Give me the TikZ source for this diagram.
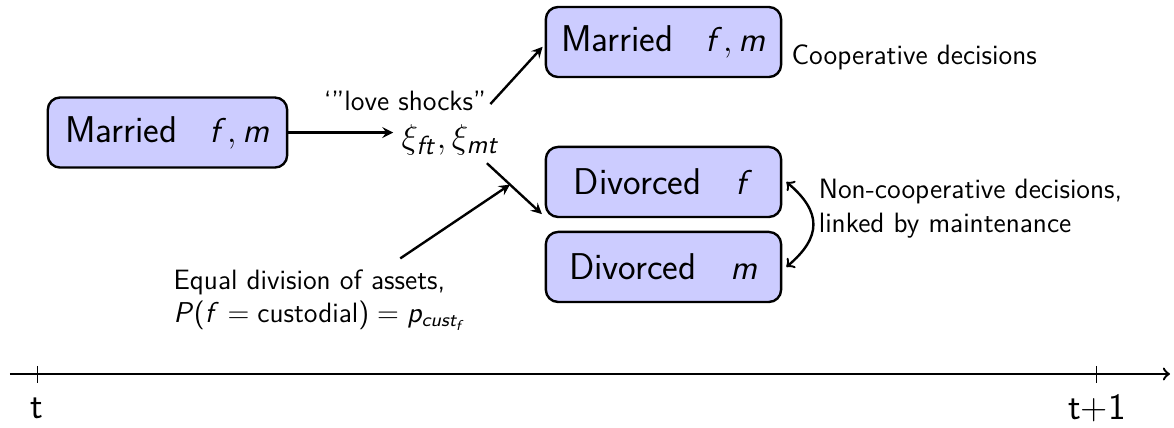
\documentclass[tikz,border=0pt]{standalone}
\renewcommand{\familydefault}{\sfdefault}
% sans slanted letters in math, as in the slides
\DeclareSymbolFont{sfletters}{OT1}{cmss}{m}{sl}
\DeclareSymbolFont{operators}{OT1}{cmss}{m}{n}
\DeclareMathSymbol{f}{\mathalpha}{sfletters}{`f}
\DeclareMathSymbol{m}{\mathalpha}{sfletters}{`m}
\DeclareMathSymbol{t}{\mathalpha}{sfletters}{`t}
\DeclareMathSymbol{P}{\mathalpha}{sfletters}{`P}
\DeclareMathSymbol{p}{\mathalpha}{sfletters}{`p}
\DeclareMathSymbol{c}{\mathalpha}{sfletters}{`c}
\DeclareMathSymbol{u}{\mathalpha}{sfletters}{`u}
\DeclareMathSymbol{s}{\mathalpha}{sfletters}{`s}

\newcommand{\bigtext}{\fontsize{15.6}{18}\selectfont}
\newcommand{\notetext}{\fontsize{11.7}{14}\selectfont}

\tikzstyle{state}=[draw,line width=1pt,rounded corners=0.18cm,fill=blue!20,minimum width=3.46cm,minimum height=1.03cm,font=\bigtext]
\tikzstyle{note}=[align=left,inner sep=1pt,font=\notetext]
\tikzstyle{link}=[line width=1pt,-stealth]

\begin{document}
\begin{tikzpicture}
\useasboundingbox (0,0) rectangle (17.265,-6.294);

% states
\node[state,minimum width=3.52cm] (married-0) at (2.463,-1.949) {Married\hspace{0.47cm}$f,m$};
\node[state] (married-1) at (9.757,-0.618) {Married\hspace{0.47cm}$f,m$};
\node[state] (divorced-f) at (9.757,-2.676) {Divorced\hspace{0.5cm}$f$};
\node[state] (divorced-m) at (9.757,-3.926) {Divorced\hspace{0.5cm}$m$};

% shocks
\node[note] (shocks) at (5.956,-1.49) {`''love shocks''};
\node[font=\bigtext] (xi) at (6.63,-2.06) {$\xi_{ft},\xi_{mt}$};

% notes
\node[note,anchor=west] (coop) at (11.6,-0.84) {Cooperative decisions};
\node[note,anchor=west] (noncoop) at (12.0,-3.07) {Non-cooperative decisions,\\linked by maintenance};
\node[note] (division) at (4.706,-4.41) {Equal division of assets,\\$P(f=\mbox{custodial})=p_{cust_f}$};

% edges
\draw[link] (married-0) -- (married-0 -| xi.west);
\draw[link] ([xshift=0.02cm,yshift=-0.04cm]shocks.east) -- ([xshift=-0.03cm,yshift=-0.07cm]married-1.west);
\draw[link] ([xshift=0.53cm,yshift=-0.34cm]xi.center) -- coordinate[pos=0.42] (hit) ([xshift=-0.04cm,yshift=0.06cm]divorced-f.south west);
\draw[link] ([xshift=1.18cm,yshift=0.12cm]division.north) -- (hit);
\draw[line width=1pt,<->,bend left=50,looseness=1.4] ([xshift=0.06cm]divorced-f.east) to ([xshift=0.06cm]divorced-m.east);

% time line
\draw[line width=1pt,->] (0.147,-5.5) -- (17.206,-5.5);
\draw (0.544,-5.382) -- (0.544,-5.632);
\draw (16.132,-5.382) -- (16.132,-5.632);
\node[font=\bigtext] (t0) at (0.544,-6.0) {t};
\node[font=\bigtext] (t1) at (16.132,-6.0) {t+1};
\end{tikzpicture}
\end{document}
